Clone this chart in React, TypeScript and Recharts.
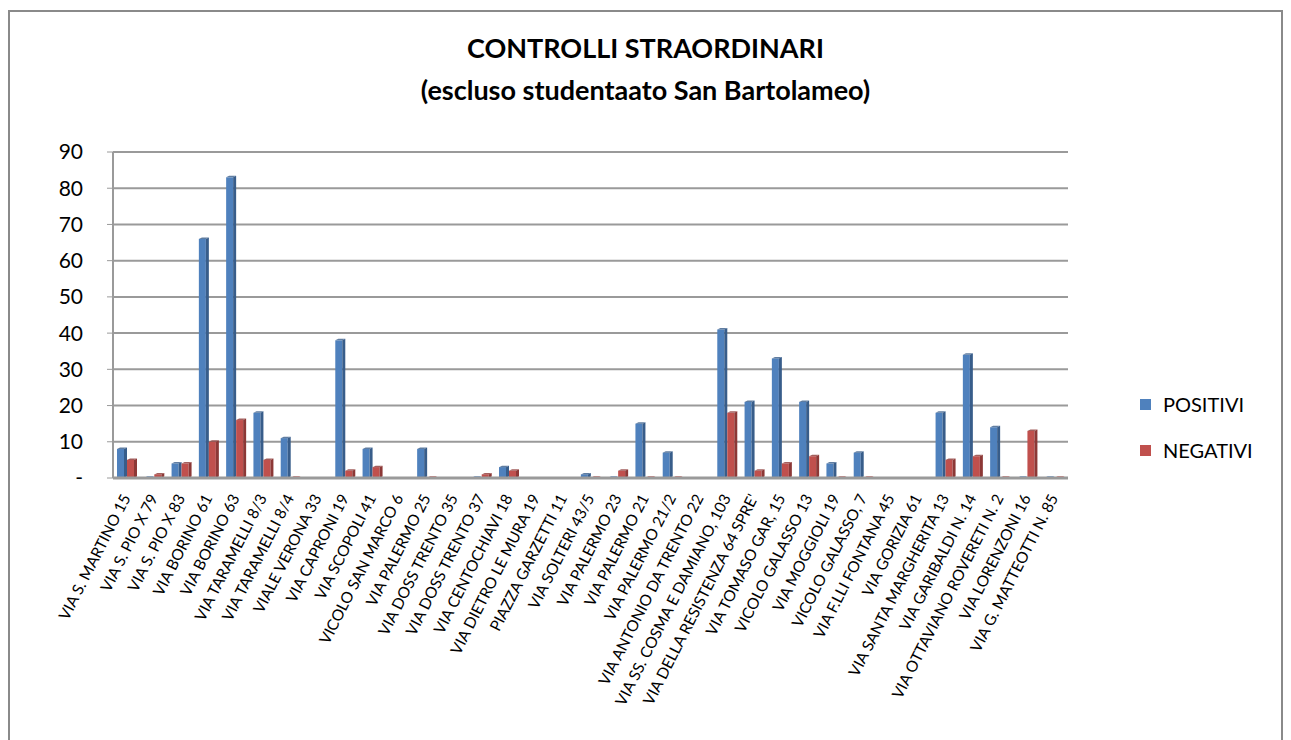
import React from 'react';
import { BarChart, Bar, XAxis, YAxis, CartesianGrid, Legend } from 'recharts';

const streets = [
  'VIA S. MARTINO 15', 'VIA S. PIO X 79', 'VIA S. PIO X 83', 'VIA BORINO 61', 'VIA BORINO 63',
  'VIA TARAMELLI 8/3', 'VIA TARAMELLI 8/4', 'VIALE VERONA 33', 'VIA CAPRONI 19', 'VIA SCOPOLI 41',
  'VICOLO SAN MARCO 6', 'VIA PALERMO 25', 'VIA DOSS TRENTO 35', 'VIA DOSS TRENTO 37', 'VIA CENTOCHIAVI 18',
  'VIA DIETRO LE MURA 19', 'PIAZZA GARZETTI 11', 'VIA SOLTERI 43/5', 'VIA PALERMO 23', 'VIA PALERMO 21',
  'VIA PALERMO 21/2', 'VIA ANTONIO DA TRENTO 22', 'VIA SS. COSMA E DAMIANO, 103', "VIA DELLA RESISTENZA  64 SPRE'",
  'VIA TOMASO GAR, 15', 'VICOLO GALASSO 13', 'VIA MOGGIOLI 19', 'VICOLO GALASSO, 7', 'VIA F.LLI FONTANA 45',
  'VIA GORIZIA 61', 'VIA SANTA MARGHERITA 13', 'VIA GARIBALDI N. 14', 'VIA OTTAVIANO ROVERETI N. 2',
  'VIA LORENZONI 16', 'VIA G. MATTEOTTI N. 85',
];

// null = empty cell in the source sheet (no slab drawn), 0 = real zero
const positivi = [8, 0, 4, 66, 83, 18, 11, null, 38, 8, null, 8, null, 0, 3, null, null, 1, 0, 15, 7, null, 41, 21, 33, 21, 4, 7, null, null, 18, 34, 14, 0, 0];
const negativi = [5, 1, 4, 10, 16, 5, 0, null, 2, 3, null, 0, null, 1, 2, null, null, 0, 2, 0, 0, null, 18, 2, 4, 6, 0, 0, null, null, 5, 6, 0, 13, 0];

const yTicks = [0, 10, 20, 30, 40, 50, 60, 70, 80, 90];

const data = streets.map((name, i) => ({ name, positivi: positivi[i], negativi: negativi[i] }));

const colors = {
  blue: '#4f81bd',
  blueSide: '#385d8a',
  red: '#c0504d',
  redSide: '#8c3836',
  grid: '#9a9a9a',
  text: '#000000',
};

const font = 'Lato, "Open Sans", sans-serif';

// front face + darker side and top, a rough take on the excel 3d column
function Bar3D(props: any) {
  const { x, y, width, height, fill, side, value } = props;
  if (x == null || y == null || value == null) return null;
  const d = 3;
  const fw = width - d;
  if (!height || height <= 0) {
    // flat slab for zero values
    return (
      <polygon
        points={`${x},${y} ${x + d},${y - 2} ${x + width},${y - 2} ${x + fw},${y}`}
        fill={fill}
        opacity={0.7}
      />
    );
  }
  return (
    <g>
      <rect x={x} y={y} width={fw} height={height} fill={fill} />
      <polygon
        points={`${x + fw},${y} ${x + width},${y - d / 2} ${x + width},${y + height - d / 2} ${x + fw},${y + height}`}
        fill={side}
      />
      <polygon
        points={`${x},${y} ${x + d},${y - d / 2} ${x + width},${y - d / 2} ${x + fw},${y}`}
        fill={side}
        opacity={0.8}
      />
    </g>
  );
}

function StreetTick(props: any) {
  const { x, y, payload } = props;
  return (
    <g transform={`translate(${x - 1},${y + 9})`}>
      <text
        transform="rotate(-63)"
        textAnchor="end"
        dominantBaseline="central"
        fontSize={15.5}
        fontFamily={font}
        fill={colors.text}
      >
        {payload.value}
      </text>
    </g>
  );
}

function LegendBox() {
  const items = [
    { label: 'POSITIVI', color: colors.blue },
    { label: 'NEGATIVI', color: colors.red },
  ];
  return (
    <div style={{ fontFamily: font, fontSize: 20 }}>
      {items.map((it, i) => (
        <div key={it.label} style={{ display: 'flex', alignItems: 'center', marginBottom: i === 0 ? 22 : 0 }}>
          <span style={{ width: 11, height: 11, background: it.color, marginRight: 12, display: 'inline-block' }} />
          <span>{it.label}</span>
        </div>
      ))}
    </div>
  );
}

export default function App() {
  return (
    <div
      style={{
        position: 'relative',
        marginTop: 2,
        width: 1275,
        height: 740,
        border: '2px solid #8a8a8a',
        background: '#fff',
        boxSizing: 'border-box',
      }}
    >
      <div
        style={{
          position: 'absolute',
          top: 15,
          left: 0,
          width: '100%',
          textAlign: 'center',
          fontFamily: font,
          fontWeight: 700,
          fontSize: 27,
          lineHeight: '42px',
          color: colors.text,
        }}
      >
        <div>CONTROLLI STRAORDINARI</div>
        <div>(escluso studentaato San Bartolameo)</div>
      </div>
      <BarChart
        width={1271}
        height={725}
        data={data}
        margin={{ top: 140, right: 73, bottom: 0, left: 0 }}
        barSize={10}
        barGap={0}
      >
        <CartesianGrid vertical={false} stroke={colors.grid} strokeWidth={2} />
        <XAxis
          dataKey="name"
          interval={0}
          height={259}
          tick={<StreetTick />}
          tickLine={false}
          axisLine={{ stroke: colors.grid, strokeWidth: 3 }}
        />
        <YAxis
          width={103}
          domain={[0, 90]}
          ticks={yTicks}
          tickFormatter={(v: number) => (v === 0 ? '-' : String(v))}
          tick={{ fontSize: 21, fontFamily: font, fill: colors.text }}
          tickLine={{ stroke: colors.grid }}
          tickSize={6}
          tickMargin={24}
          axisLine={{ stroke: colors.grid, strokeWidth: 2 }}
        />
        <Legend
          layout="vertical"
          verticalAlign="top"
          align="right"
          content={<LegendBox />}
          wrapperStyle={{ left: 1130, top: 380, width: 140 }}
        />
        <Bar
          dataKey="positivi"
          name="POSITIVI"
          fill={colors.blue}
          shape={<Bar3D side={colors.blueSide} />}
          isAnimationActive={false}
        />
        <Bar
          dataKey="negativi"
          name="NEGATIVI"
          fill={colors.red}
          shape={<Bar3D side={colors.redSide} />}
          isAnimationActive={false}
        />
      </BarChart>
    </div>
  );
}
